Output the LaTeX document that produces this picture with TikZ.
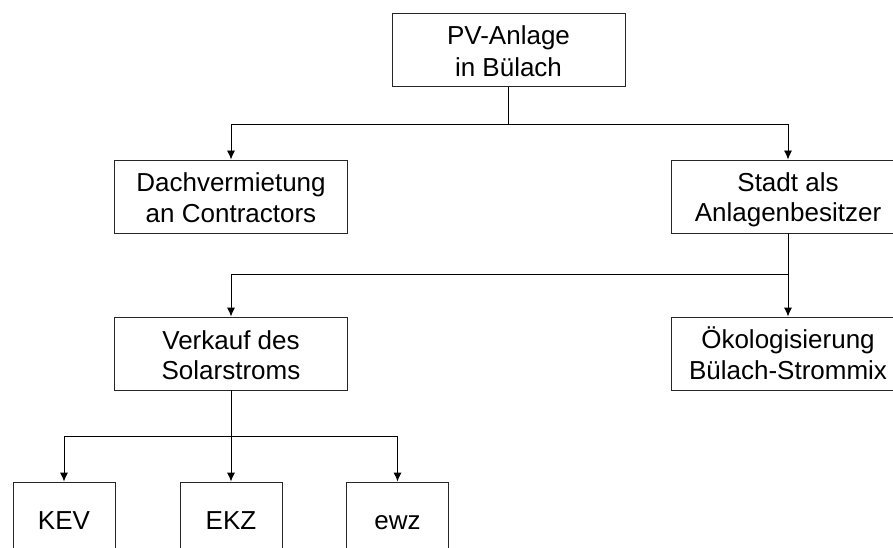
\documentclass[tikz,border=0pt]{standalone}
\usepackage{fontspec}
\setmainfont{Liberation Sans}
\usetikzlibrary{calc,arrows.meta}

\newcommand{\ls}{\rule[-4.5pt]{0pt}{30pt}}

\tikzset{
  box/.style={draw=black!85,line width=0.9pt,minimum width=233pt,minimum height=73pt,
    inner sep=0pt,align=center,font=\fontsize{26}{30}\selectfont},
  smallbox/.style={box,minimum width=102pt},
  arr/.style={-{Latex[length=9pt,width=8pt]},line width=0.9pt},
}

\begin{document}
\begin{tikzpicture}[x=1pt,y=-1pt]
\useasboundingbox (0,0) rectangle (893,548);
\clip (0,0) rectangle (893,548);
\node[box] (anlage) at (508.5,50) {\ls PV-Anlage\\\ls in Bülach};
\node[box] (dach) at (231,196.5) {\ls Dachvermietung\\\ls an Contractors};
\node[box] (stadt) at (788,196.5) {\ls Stadt als\\\ls Anlagenbesitzer};
\node[box] (verkauf) at (231,353.5) {\ls Verkauf des\\\ls Solarstroms};
\node[box] (oeko) at (788,353.5) {\ls Ökologisierung\\\ls Bülach-Strommix};
\node[smallbox] (kev) at (64,518.5) {\ls KEV};
\node[smallbox] (ekz) at (231,518.5) {\ls EKZ};
\node[smallbox] (ewz) at (397.5,518.5) {\ls ewz};
% Verzweigungen
\coordinate (j1) at (508.5,124);
\coordinate (j2) at (788,274);
\coordinate (j3) at (231,436);
\draw[line width=0.9pt] (anlage) -- (j1);
\draw[arr] (j1) -| (dach);
\draw[arr] (j1) -| (stadt);
\draw[line width=0.9pt] (stadt) -- (j2);
\draw[arr] (j2) -| (verkauf);
\draw[arr] (j2) -- (oeko);
\draw[line width=0.9pt] (verkauf) -- (j3);
\draw[arr] (j3) -| (kev);
\draw[arr] (j3) -- (ekz);
\draw[arr] (j3) -| (ewz);
\end{tikzpicture}
\end{document}
